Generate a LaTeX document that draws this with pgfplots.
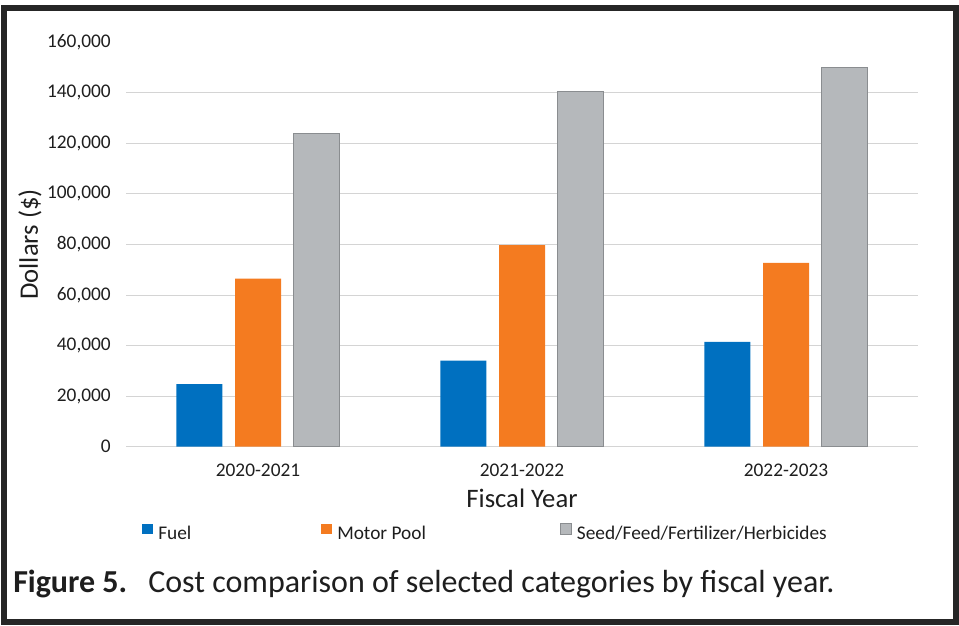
\documentclass[border=0pt]{standalone}
\usepackage{fontspec}
\setmainfont{Carlito}
\usepackage{pgfplots}
\pgfplotsset{compat=1.18}

\definecolor{fuel}{HTML}{0070C0}
\definecolor{motor}{HTML}{F47B20}
\definecolor{seed}{HTML}{B5B8BB}
\definecolor{seededge}{HTML}{8A8D90}
\definecolor{gridc}{HTML}{D4D4D4}
\definecolor{txt}{HTML}{1E1E1E}

\begin{document}
\begin{tikzpicture}
% page = 959 x 625 px at 0.75pt per px
\path[use as bounding box] (0pt,0pt) rectangle (719.25pt,468.75pt);
\draw[line width=4.5pt, color=black!85] (2.8pt,2pt) rectangle (716.8pt,463.1pt);

\begin{axis}[
    at={(94.5pt,133.7pt)}, anchor=south west,
    scale only axis, width=594pt, height=303.6pt,
    ybar=9.4pt, bar width=34.5pt,
    xmin=-0.5, xmax=2.5, ymin=0, ymax=160000,
    xtick={0,1,2},
    xticklabels={2020-2021,2021-2022,2022-2023},
    ytick={0,20000,...,140000},
    extra y ticks={160000},
    extra y tick style={grid=none},
    ymajorgrids, grid style={gridc, line width=0.6pt},
    axis line style={draw=none},
    major tick length=0pt,
    scaled y ticks=false,
    /pgf/number format/assume math mode=true,
    yticklabel style={/pgf/number format/fixed, /pgf/number format/1000 sep={,}},
    tick label style={font=\fontsize{14.5}{17}\selectfont, text=txt},
    yticklabel style={anchor=east, inner sep=0pt, xshift=-11.25pt},
    xticklabel style={anchor=north, inner sep=0pt, yshift=-13pt},
    xlabel={Fiscal Year}, ylabel={Dollars (\$)},
    label style={font=\fontsize{20}{24}\selectfont, text=txt},
    xlabel style={at={(axis description cs:0.5,-0.1045)}, anchor=north, inner sep=0pt},
    ylabel style={at={(axis description cs:-0.1212,0.5)}, anchor=center, inner sep=0pt},
    legend columns=3,
    legend style={at={(axis description cs:0.0202,-0.212)}, anchor=west,
        draw=none, fill=none, inner sep=0pt,
        font=\fontsize{14.5}{17}\selectfont, text=txt,
        nodes={inner sep=0pt},
        /tikz/every odd column/.append style={column sep=4pt},
        /tikz/every even column/.append style={column sep=0pt}},
    legend image code/.code={\fill[#1] (0pt,0pt) rectangle (8pt,8pt);},
]
\addplot[fill=fuel, draw=none] coordinates {(0,24700) (1,34000) (2,41400)};
\addlegendentry{\makebox[122.25pt][l]{Fuel}}
\addplot[fill=motor, draw=none] coordinates {(0,66400) (1,79700) (2,72700)};
\addlegendentry{\makebox[167.25pt][l]{Motor Pool}}
\addplot[fill=seed, draw=seededge, line width=0.5pt] coordinates {(0,123800) (1,140600) (2,150000)};
\addlegendentry{Seed/Feed/Fertilizer/Herbicides}
\end{axis}

\node[anchor=base west, inner sep=0pt, text=txt,
      font=\fontsize{24}{29}\selectfont\bfseries] at (9.75pt,24.5pt) {Figure 5.};
\node[anchor=base west, inner sep=0pt, text=txt,
      font=\fontsize{24}{29}\selectfont] at (111pt,24.5pt)
      {Cost comparison of selected categories by fiscal year.};
\end{tikzpicture}
\end{document}
